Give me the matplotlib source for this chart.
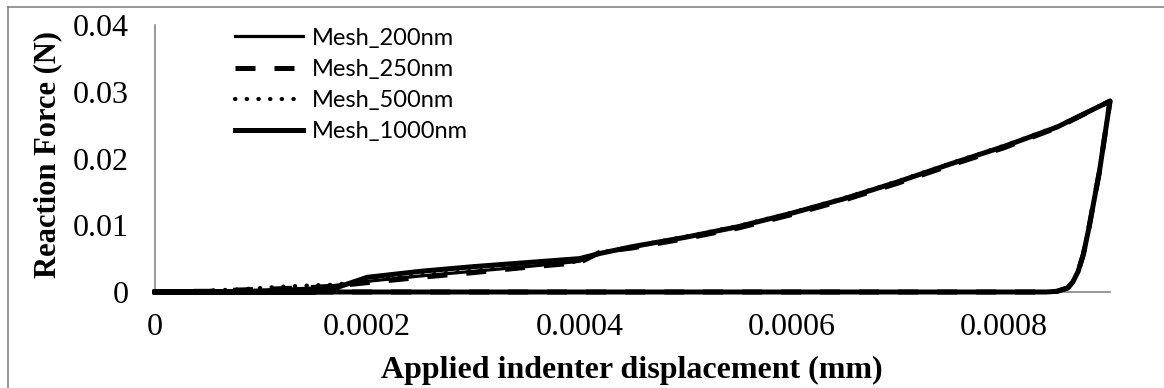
import numpy as np
import matplotlib
matplotlib.use('Agg')
import matplotlib.pyplot as plt
from matplotlib.lines import Line2D

# loading branch (mm, N)
x_load = [0.0, 0.00003, 0.00005, 0.00008, 0.0001, 0.00012, 0.00015, 0.00017, 0.0002, 0.00025,
          0.0003, 0.00035, 0.0004, 0.00042, 0.00045, 0.0005, 0.00055, 0.0006, 0.00065,
          0.0007, 0.00075, 0.0008, 0.00085, 0.0009]
f_200 = [0.0, 0.0, 0.0001, 0.0002, 0.0003, 0.0004, 0.0006, 0.0010, 0.0016, 0.0024,
         0.0031, 0.0038, 0.0046, 0.0058, 0.0067, 0.0082, 0.0098, 0.0118, 0.0140,
         0.0165, 0.0192, 0.0218, 0.0247, 0.0286]
f_250 = [0.0, 0.0001, 0.0001, 0.0003, 0.0004, 0.0005, 0.0007, 0.0009, 0.0014, 0.0022,
         0.0029, 0.0037, 0.0044, 0.0060, 0.0066, 0.0080, 0.0096, 0.0116, 0.0138,
         0.0163, 0.0190, 0.0216, 0.0246, 0.0286]
f_500 = [0.0, 0.0, 0.0002, 0.0004, 0.0006, 0.0008, 0.0010, 0.0011, 0.0017, 0.0025,
         0.0032, 0.0039, 0.0046, 0.0059, 0.0068, 0.0083, 0.0099, 0.0119, 0.0141,
         0.0166, 0.0193, 0.0219, 0.0248, 0.0286]
f_1000 = [0.0, 0.0, 0.0, 0.0, 0.0, 0.0, 0.0, 0.0006, 0.0022, 0.0031,
          0.0038, 0.0044, 0.0050, 0.0058, 0.0068, 0.0082, 0.0098, 0.0118, 0.0140,
          0.0165, 0.0192, 0.0218, 0.0247, 0.0286]

# unloading branch, then back along zero
x_unload = [0.0009, 0.00089, 0.00088, 0.000875, 0.00087, 0.000865, 0.00086, 0.00085, 0.00084, 0.0]
f_unload = [0.0286, 0.0180, 0.0095, 0.0057, 0.0031, 0.0015, 0.0006, 0.0001, 0.0, 0.0]

labels = ['Mesh_200nm', 'Mesh_250nm', 'Mesh_500nm', 'Mesh_1000nm']
loads = [f_200, f_250, f_500, f_1000]
styles = [dict(lw=2.3, ls='-'),
          dict(lw=3.6, ls=(0, (4, 3.8))),
          dict(lw=3.0, ls=(0, (0.1, 2.7)), dash_capstyle='round'),
          dict(lw=3.6, ls='-')]

fig = plt.figure(figsize=(11.64, 3.88), dpi=100)
ax = fig.add_axes([155 / 1164, 96 / 388, 955 / 1164, 267 / 388])

for lab, f, st in zip(labels, loads, styles):
    xs = x_load + x_unload[1:]
    ys = f + f_unload[1:]
    ax.plot(xs, ys, color='black', label=lab, clip_on=False, **st)

ax.set_xlim(0, 0.0009)
ax.set_ylim(0, 0.04)
ax.set_xticks([0, 0.0002, 0.0004, 0.0006, 0.0008])
ax.set_xticklabels(['0', '0.0002', '0.0004', '0.0006', '0.0008'])
ax.set_yticks([0, 0.01, 0.02, 0.03, 0.04])
ax.set_yticklabels(['0', '0.01', '0.02', '0.03', '0.04'])
for lab in ax.get_xticklabels() + ax.get_yticklabels():
    lab.set_fontfamily('Liberation Serif')
    lab.set_fontsize(23)
ax.tick_params(axis='both', length=0)
ax.tick_params(axis='y', pad=19)
ax.tick_params(axis='x', pad=15)

for s in ['top', 'right']:
    ax.spines[s].set_visible(False)
for s in ['left', 'bottom']:
    ax.spines[s].set_color('#868686')
    ax.spines[s].set_linewidth(1.2)
    ax.spines[s].set_zorder(1)

fig.text(632 / 1164, 18 / 388, 'Applied indenter displacement (mm)', ha='center', va='center',
         family='Liberation Serif', fontweight='bold', fontsize=23)
fig.text(48 / 1164, (388 - 155) / 388, 'Reaction Force (N)', ha='center', va='center', rotation=90,
         family='Liberation Serif', fontweight='bold', fontsize=22)

leg = ax.legend(loc='upper left', bbox_to_anchor=(63 / 955, 1.052), frameon=False,
                prop={'family': 'Lato', 'size': 17}, handlelength=2.92, handletextpad=0.34,
                labelspacing=0.43, borderpad=0.2)

# gray frame around the chart area
fig.add_artist(Line2D([8 / 1164, 8 / 1164], [0, 381 / 388], color='#868686', lw=1.2))
fig.add_artist(Line2D([8 / 1164, 1], [381 / 388, 381 / 388], color='#868686', lw=1.2))

fig.savefig('out.png', dpi=100)
